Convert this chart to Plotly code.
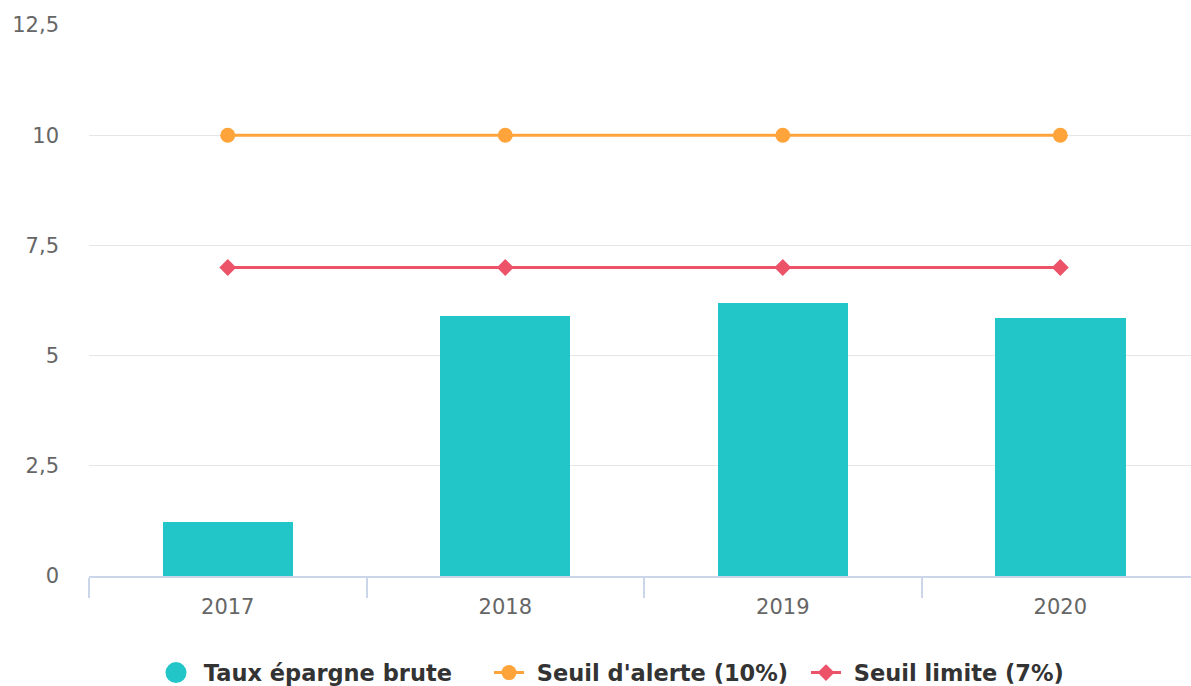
import plotly.graph_objects as go

years = ["2017", "2018", "2019", "2020"]
taux_epargne = [1.22, 5.90, 6.19, 5.85]
seuil_alerte = [10, 10, 10, 10]
seuil_limite = [7, 7, 7, 7]

C_BAR = "#22C5C8"
C_ORANGE = "#FFA43A"
C_RED = "#EC5369"
FONT = "DejaVu Sans"
NB = "\u00a0"

fig = go.Figure()
fig.add_trace(go.Bar(x=years, y=taux_epargne, marker=dict(color=C_BAR, line=dict(width=0)),
                     width=0.47, name="Taux épargne brute", showlegend=False))
# legend proxy for the bar series (circle symbol)
fig.add_trace(go.Scatter(x=[None], y=[None], mode="markers", name=NB + "Taux épargne brute",
                         marker=dict(symbol="circle", size=16, color=C_BAR,
                                     line=dict(color=C_BAR, width=5)),
                         legendwidth=288))
fig.add_trace(go.Scatter(x=years, y=seuil_alerte, mode="lines+markers",
                         name=NB + "Seuil d'alerte (10%)",
                         line=dict(color=C_ORANGE, width=3),
                         marker=dict(symbol="circle", size=15, color=C_ORANGE),
                         legendwidth=272))
fig.add_trace(go.Scatter(x=years, y=seuil_limite, mode="lines+markers",
                         name=NB + "Seuil limite (7%)",
                         line=dict(color=C_RED, width=3),
                         marker=dict(symbol="diamond", size=13, color=C_RED)))

fig.update_layout(
    width=1191, height=686,
    margin=dict(l=89, r=0, t=25, b=110),
    plot_bgcolor="white", paper_bgcolor="white",
    separators=", ",
    font=dict(family=FONT, size=21, color="#666666"),
    bargap=0,
    legend=dict(orientation="h", xref="container", x=156 / 1191, xanchor="left",
                yref="container", y=0.019, yanchor="middle",
                font=dict(family=FONT, size=22.5, color="#333333", weight="bold"),
                itemsizing="trace", traceorder="normal"),
    xaxis=dict(type="category", range=[-0.5, 3.471], tickson="boundaries", ticks="outside",
               ticklen=20, tickcolor="#CCD6EB", tickwidth=2, showline=True, linecolor="#CCD6EB",
               linewidth=2, showgrid=False, ticklabelstandoff=11,
               tickfont=dict(size=21, color="#666666")),
    yaxis=dict(range=[0, 12.5], dtick=2.5, tick0=0, showgrid=True, gridcolor="#E6E6E6",
               gridwidth=1, zeroline=False, showline=False, ticks="", ticklabelstandoff=29,
               tickfont=dict(size=21, color="#666666")),
)

fig.write_html("out.html")
